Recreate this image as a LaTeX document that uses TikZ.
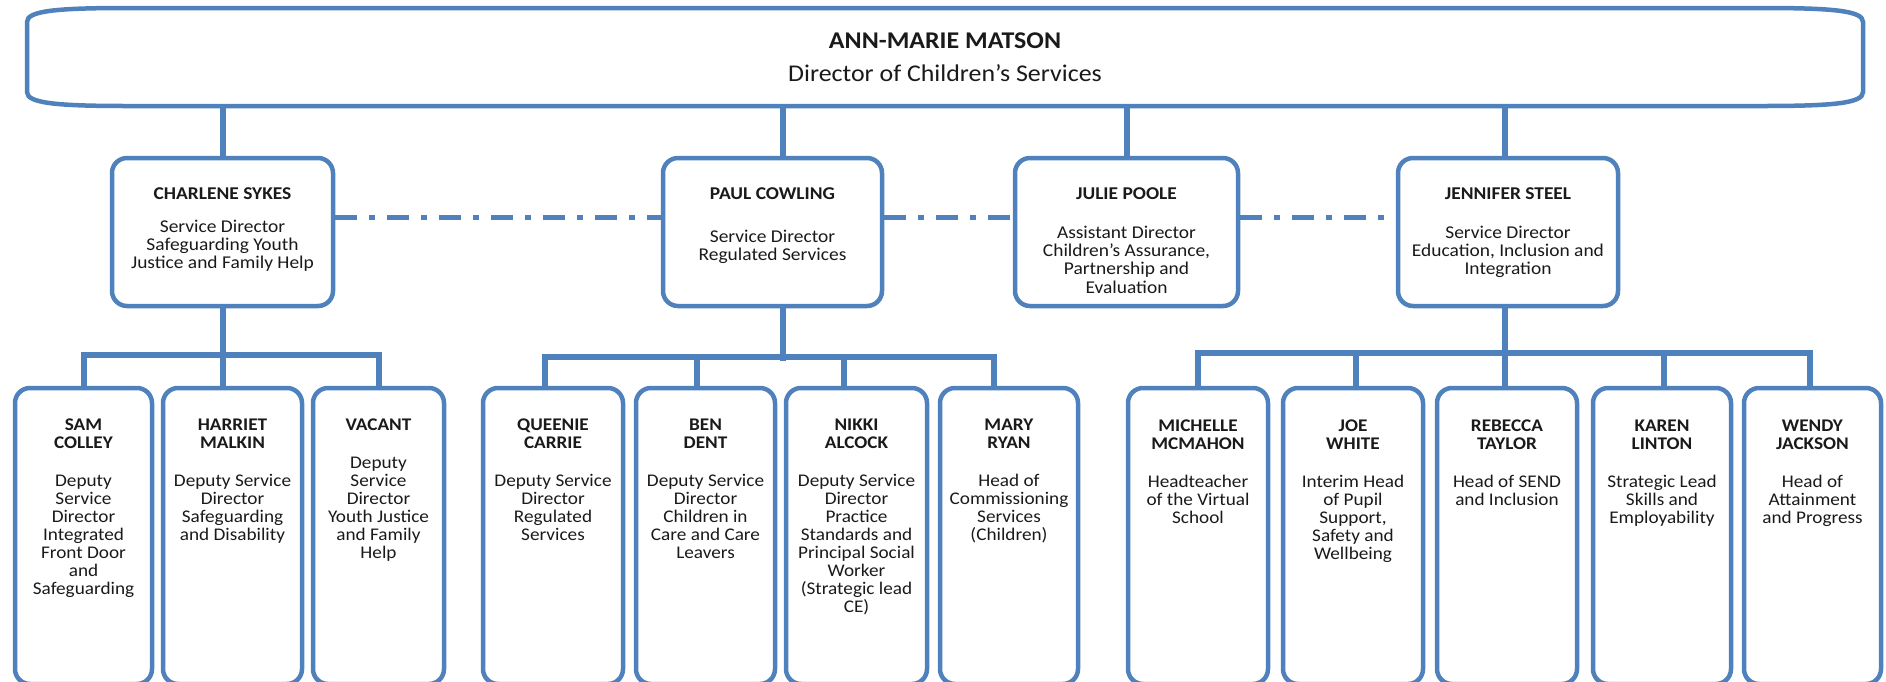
\documentclass[tikz,border=0pt]{standalone}
\usepackage{fontspec}
\setmainfont{Carlito}[FakeStretch=1.08]
\definecolor{bl}{HTML}{4F81BD}
\definecolor{txt}{HTML}{1A1A1A}
\begin{document}
\begin{tikzpicture}[x=0.5pt,y=-0.5pt,
  conn/.style={draw=bl, line width=3pt},
  dd/.style={draw=bl, line width=2.5pt, dash pattern=on 11pt off 6pt on 3pt off 6pt},
  lvtwo/.style={draw=bl, line width=2.25pt, rounded corners=7.5pt, fill=white, minimum height=74pt, inner sep=0pt},
  lvthree/.style={draw=bl, line width=2.25pt, rounded corners=7.5pt, fill=white, minimum height=148pt, inner sep=0pt},
  ttwo/.style={font=\fontsize{9pt}{9.15pt}\selectfont, align=center, inner sep=0pt, anchor=north, text=txt},
  tthree/.style={font=\fontsize{8.9pt}{9pt}\selectfont, align=center, inner sep=0pt, anchor=north, text=txt},
  ttitle/.style={font=\fontsize{12pt}{16.5pt}\selectfont, align=center, inner sep=0pt, text=txt}
]
\useasboundingbox (0,0) rectangle (1886,681);

% top box
\node[minimum width=918pt, minimum height=49pt, inner sep=0pt] (ann) at (945,57) {};
\draw[draw=bl, line width=2.25pt, fill=white]
  (127,8) -- (1763,8) .. controls (1835,8) and (1863,11) .. (1863,22) -- (1863,92)
  .. controls (1863,103) and (1835,106) .. (1763,106) -- (127,106)
  .. controls (55,106) and (27,103) .. (27,92) -- (27,22)
  .. controls (27,11) and (55,8) .. (127,8) -- cycle;
\node[ttitle] (ann-t) at (945,57) {\textbf{ANN-MARIE MATSON}\\Director of Children’s Services};

% level two
\node[lvtwo, minimum width=110.5pt] (charlene) at (222.5,232) {};
\node[lvtwo, minimum width=109.5pt] (paul) at (772.5,232) {};
\node[lvtwo, minimum width=111.5pt] (julie) at (1126.5,232) {};
\node[lvtwo, minimum width=110pt] (jennifer) at (1508,232) {};

% level three
\node[lvthree, minimum width=68.5pt] (sam) at (83.5,536) {};
\node[lvthree, minimum width=69.5pt] (harriet) at (232.5,536) {};
\node[lvthree, minimum width=65.5pt] (vacant) at (378.5,536) {};
\node[lvthree, minimum width=70pt] (queenie) at (553,536) {};
\node[lvthree, minimum width=69.5pt] (ben) at (705.5,536) {};
\node[lvthree, minimum width=70.5pt] (nikki) at (856.5,536) {};
\node[lvthree, minimum width=69pt] (mary) at (1009,536) {};
\node[lvthree, minimum width=70pt] (michelle) at (1198,536) {};
\node[lvthree, minimum width=70pt] (joe) at (1353,536) {};
\node[lvthree, minimum width=70pt] (rebecca) at (1507,536) {};
\node[lvthree, minimum width=69pt] (karen) at (1662,536) {};
\node[lvthree, minimum width=68.5pt] (wendy) at (1812.5,536) {};

% connectors top -> level two
\draw[conn] (charlene.north) -- (charlene.north |- ann.south);
\draw[conn] ([xshift=5pt]paul.north) -- ([xshift=5pt]paul.north |- ann.south);
\draw[conn] (julie.north) -- (julie.north |- ann.south);
\draw[conn] ([xshift=-1.5pt]jennifer.north) -- ([xshift=-1.5pt]jennifer.north |- ann.south);

% dotted links
\draw[dd] ([yshift=7.5pt]charlene.east) -- ([yshift=7.5pt]charlene.east -| paul.west);
\draw[dd] ([yshift=7.5pt]paul.east) -- ([yshift=7.5pt]paul.east -| julie.west);
\draw[dd] ([yshift=7.5pt]julie.east) -- ([yshift=7.5pt]julie.east -| jennifer.west);

% Charlene group
\draw[conn] (charlene.south) -- (charlene.south |- harriet.north);
\draw[conn] (sam.north) -- ++(0,-31) -| (vacant.north);

% Paul group
\draw[conn] ([xshift=5pt]paul.south) -- ++(0,53);
\draw[conn] ([xshift=-4pt]queenie.north) -- ++(0,-29) -| ([xshift=-7.5pt]mary.north);
\draw[conn] ([xshift=-4.5pt]ben.north) -- ++(0,-29);
\draw[conn] ([xshift=-6.5pt]nikki.north) -- ++(0,-29);

% Jennifer group
\draw[conn] ([xshift=-1.5pt]jennifer.south) -- ([xshift=-1.5pt]jennifer.south |- rebecca.north);
\draw[conn] (michelle.north) -- ++(0,-33) -| ([xshift=-1.5pt]wendy.north);
\draw[conn] ([xshift=1.5pt]joe.north) -- ++(0,-33);
\draw[conn] ([xshift=1pt]karen.north) -- ++(0,-33);

% texts level two
\node[ttwo] (charlene-t) at ([yshift=-16pt]charlene.north) {\textbf{CHARLENE SYKES}\\[7pt]Service Director\\Safeguarding Youth\\Justice and Family Help};
\node[ttwo] (paul-t) at ([yshift=-16pt]paul.north) {\textbf{PAUL COWLING}\\[12pt]Service Director\\Regulated Services};
\node[ttwo] (julie-t) at ([yshift=-16pt]julie.north) {\textbf{JULIE POOLE}\\[10pt]Assistant Director\\Children’s Assurance,\\Partnership and\\Evaluation};
\node[ttwo] (jennifer-t) at ([yshift=-16pt]jennifer.north) {\textbf{JENNIFER STEEL}\\[10pt]Service Director\\Education, Inclusion and\\Integration};

% texts level three
\node[tthree] (sam-t) at ([yshift=-16.5pt]sam.north) {\textbf{SAM}\\\textbf{COLLEY}\\[10pt]Deputy\\Service\\Director\\Integrated\\Front Door\\and\\Safeguarding};
\node[tthree] (harriet-t) at ([yshift=-16.5pt]harriet.north) {\textbf{HARRIET}\\\textbf{MALKIN}\\[10pt]Deputy Service\\Director\\Safeguarding\\and Disability};
\node[tthree] (vacant-t) at ([yshift=-16.5pt]vacant.north) {\textbf{VACANT}\\[10pt]Deputy\\Service\\Director\\Youth Justice\\and Family\\Help};
\node[tthree] (queenie-t) at ([yshift=-16.5pt]queenie.north) {\textbf{QUEENIE}\\\textbf{CARRIE}\\[10pt]Deputy Service\\Director\\Regulated\\Services};
\node[tthree] (ben-t) at ([yshift=-16.5pt]ben.north) {\textbf{BEN}\\\textbf{DENT}\\[10pt]Deputy Service\\Director\\Children in\\Care and Care\\Leavers};
\node[tthree] (nikki-t) at ([yshift=-16.5pt]nikki.north) {\textbf{NIKKI}\\\textbf{ALCOCK}\\[10pt]Deputy Service\\Director\\Practice\\Standards and\\Principal Social\\Worker\\(Strategic lead\\CE)};
\node[tthree] (mary-t) at ([yshift=-16.5pt]mary.north) {\textbf{MARY}\\\textbf{RYAN}\\[10pt]Head of\\Commissioning\\Services\\(Children)};
\node[tthree] (michelle-t) at ([yshift=-17pt]michelle.north) {\textbf{MICHELLE}\\\textbf{MCMAHON}\\[10pt]Headteacher\\of the Virtual\\School};
\node[tthree] (joe-t) at ([yshift=-17pt]joe.north) {\textbf{JOE}\\\textbf{WHITE}\\[10pt]Interim Head\\of Pupil\\Support,\\Safety and\\Wellbeing};
\node[tthree] (rebecca-t) at ([yshift=-17pt]rebecca.north) {\textbf{REBECCA}\\\textbf{TAYLOR}\\[10pt]Head of SEND\\and Inclusion};
\node[tthree] (karen-t) at ([yshift=-17pt]karen.north) {\textbf{KAREN}\\\textbf{LINTON}\\[10pt]Strategic Lead\\Skills and\\Employability};
\node[tthree] (wendy-t) at ([yshift=-17pt]wendy.north) {\textbf{WENDY}\\\textbf{JACKSON}\\[10pt]Head of\\Attainment\\and Progress};
\end{tikzpicture}
\end{document}
